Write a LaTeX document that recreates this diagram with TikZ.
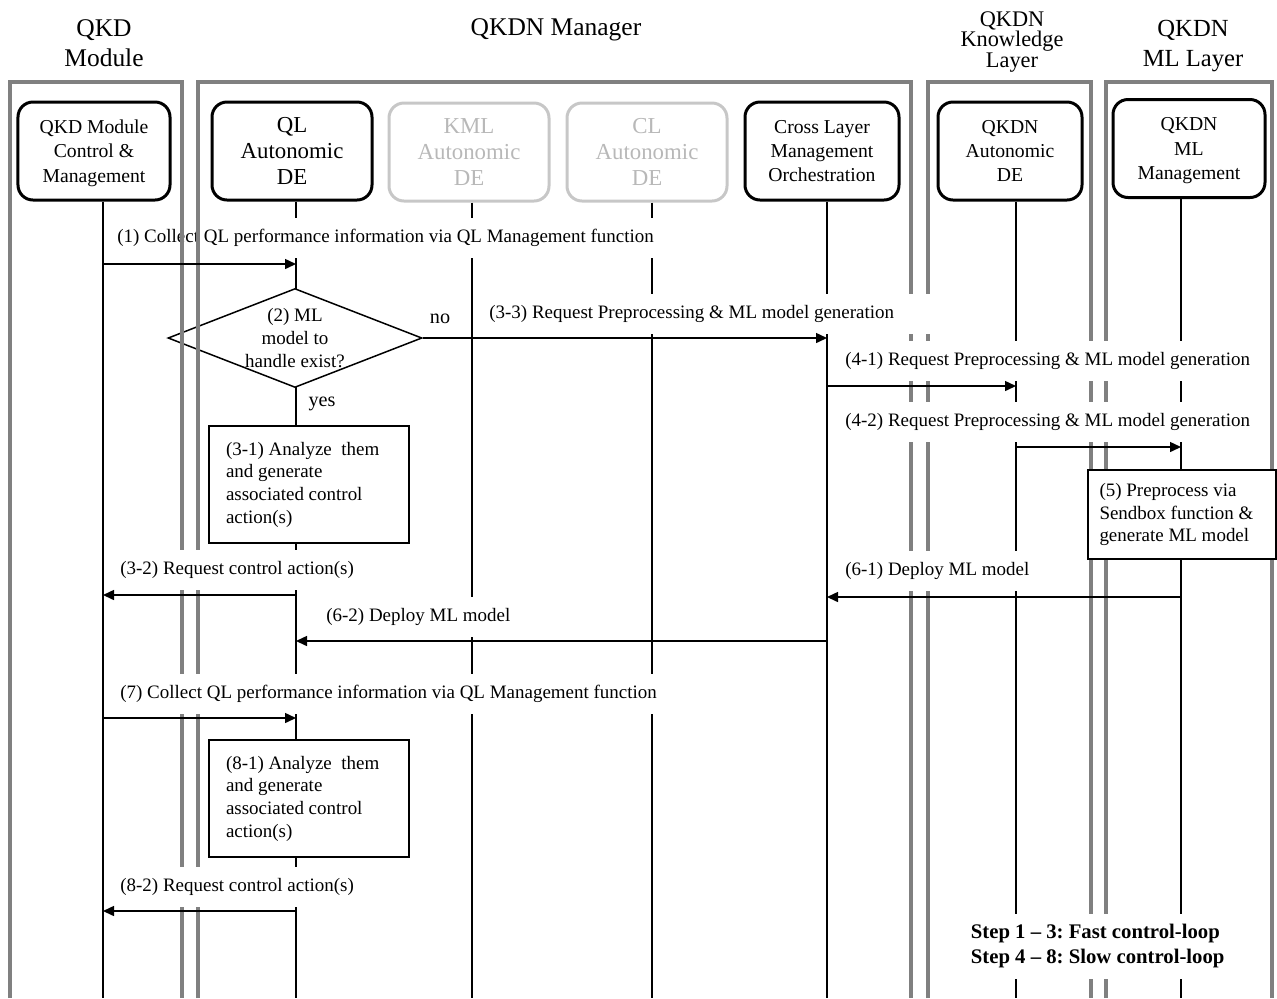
\documentclass[tikz,border=0pt]{standalone}
\usepackage{fontspec}
\setmainfont{Liberation Serif}
\usetikzlibrary{shapes.geometric,arrows.meta}
\frenchspacing

\begin{document}
\begin{tikzpicture}[x=0.2mm, y=-0.2mm,
  panel/.style={draw=black!50, line width=0.8mm},
  life/.style={line width=0.3mm},
  ebox/.style={draw, line width=0.6mm, rounded corners=3mm, align=center, text depth=0pt, minimum height=19.6mm, font=\fontsize{11.2}{13.8}\selectfont},
  ebig/.style={ebox, font=\fontsize{13}{14.8}\selectfont},
  egray/.style={ebig, draw=black!22, text=black!28},
  msg/.style={line width=0.3mm, -{Triangle[length=2.2mm,width=2mm]}},
  lbl/.style={anchor=west, fill=white, inner xsep=1.5mm, minimum height=8mm, font=\fontsize{10.8}{13}\selectfont},
  note/.style={draw, line width=0.3mm, fill=white, align=flush left, font=\fontsize{10.8}{12.9}\selectfont},
  head/.style={align=center, font=\fontsize{14.5}{17}\selectfont}]
\useasboundingbox (0,0) rectangle (1277,998);
% headings
\node[head] (hqkd) at (104,43) {QKD\\Module};
\node[head] (hman) at (556,30) {QKDN Manager};
\node[head, font=\fontsize{12.7}{11.9}\selectfont] (hknow) at (1012,42) {QKDN\\Knowledge\\Layer};
\node[head, font=\fontsize{14}{17}\selectfont] (hml) at (1193,46) {QKDN\\ML Layer};
% entities
\node[ebox, minimum width=30.4mm] (qkd) at (94,151) {QKD Module\\Control \&\\Management};
\node[ebig, minimum width=32mm] (ql) at (292,151) {QL\\Autonomic\\DE};
\node[egray, minimum width=32mm] (kml) at (469,152) {KML\\Autonomic\\DE};
\node[egray, minimum width=32mm] (cl) at (647,152) {CL\\Autonomic\\DE};
\node[ebox, minimum width=30.8mm] (cross) at (822,151) {Cross Layer\\Management\\Orchestration};
\node[ebox, minimum width=28.8mm] (know) at (1010,151) {QKDN\\Autonomic\\DE};
\node[ebox, minimum width=30.4mm] (mlm) at (1189,148.5) {QKDN\\ML\\Management};
% lifelines
\coordinate (qkdB) at (103,998);
\coordinate (qlB) at (296,998);
\coordinate (kmlB) at (472,998);
\coordinate (clB) at (652,998);
\coordinate (crossB) at (827,998);
\coordinate (knowB) at (1016,998);
\coordinate (mlB) at (1181,998);
\draw[life] (qkdB |- qkd.south) -- (qkdB);
\draw[life] (qlB |- ql.south) -- (qlB);
\draw[life] (kmlB |- kml.south) -- (kmlB);
\draw[life] (clB |- cl.south) -- (clB);
\draw[life] (crossB |- cross.south) -- (crossB);
\draw[life] (knowB |- know.south) -- (knowB);
\draw[life] (mlB |- mlm.south) -- (mlB);
\node[lbl] (l1) at (109.5,238) {(1) Collect QL performance information via QL Management function};
\node[diamond, draw, fill=white, line width=0.3mm, aspect=2.56, minimum width=50.8mm, minimum height=19.8mm, inner sep=0pt] (dec) at (295,338) {};
\node[align=center, font=\fontsize{10.8}{13}\selectfont] (dectxt) at (dec.center) {(2) ML\\model to\\handle exist?};
% layer frames
\draw[panel] (10,998) -- (10,82) -- (182,82) -- (182,998);
\draw[panel] (198,998) -- (198,82) -- (911,82) -- (911,998);
\draw[panel] (928,998) -- (928,82) -- (1091,82) -- (1091,998);
\draw[panel] (1106,998) -- (1106,82) -- (1272,82) -- (1272,998);
% message labels
\node[lbl, text width=87.8mm, align=flush left] (l33) at (481.5,314) {(3-3) Request Preprocessing \& ML model generation};
\node[lbl] (l41) at (837.5,361) {(4-1) Request Preprocessing \& ML model generation};
\node[lbl] (l42) at (837.5,422) {(4-2) Request Preprocessing \& ML model generation};
\node[lbl] (l32) at (112.5,570) {(3-2) Request control action(s)};
\node[lbl] (l61) at (837.5,571) {(6-1) Deploy ML model};
\node[lbl] (l62) at (318.5,617) {(6-2) Deploy ML model};
\node[lbl] (l7) at (112.5,694) {(7) Collect QL performance information via QL Management function};
\node[lbl] (l82) at (112.5,887) {(8-2) Request control action(s)};
\node[font=\fontsize{11.5}{13}\selectfont] (no) at (440,319) {no};
\node[font=\fontsize{11.5}{13}\selectfont] (yes) at (322,404) {yes};
% local actions
\node[note, minimum width=40mm, minimum height=23.4mm, text width=33.2mm] (ana1) at (309,484.5) {(3-1) Analyze\ \ them\\and generate\\associated control\\action(s)};
\node[note, minimum width=40mm, minimum height=23.4mm, text width=33.2mm] (ana2) at (309,798.5) {(8-1) Analyze\ \ them\\and generate\\associated control\\action(s)};
\node[note, minimum width=37.6mm, minimum height=17.8mm, text width=33mm] (prep) at (1182,514.5) {(5) Preprocess via\\Sendbox function \&\\generate ML model};
\node[lbl, align=flush left, minimum height=13mm, font=\bfseries\fontsize{11.8}{14.5}\selectfont] (steps) at (963,946) {Step 1 -- 3: Fast control-loop\\Step 4 -- 8: Slow control-loop};
% messages
\coordinate (m1) at (0,264);
\coordinate (m41) at (0,386);
\coordinate (m42) at (0,447);
\coordinate (m32) at (0,595);
\coordinate (m61) at (0,597);
\coordinate (m62) at (0,641);
\coordinate (m7) at (0,718);
\coordinate (m82) at (0,911);
\draw[msg] (qkdB |- m1) -- (qlB |- m1);
\draw[msg] (dec.east) -- (crossB |- dec.east);
\draw[msg] (crossB |- m41) -- (knowB |- m41);
\draw[msg] (knowB |- m42) -- (mlB |- m42);
\draw[msg] (qlB |- m32) -- (qkdB |- m32);
\draw[msg] (mlB |- m61) -- (crossB |- m61);
\draw[msg] (crossB |- m62) -- (qlB |- m62);
\draw[msg] (qkdB |- m7) -- (qlB |- m7);
\draw[msg] (qlB |- m82) -- (qkdB |- m82);
\end{tikzpicture}
\end{document}
